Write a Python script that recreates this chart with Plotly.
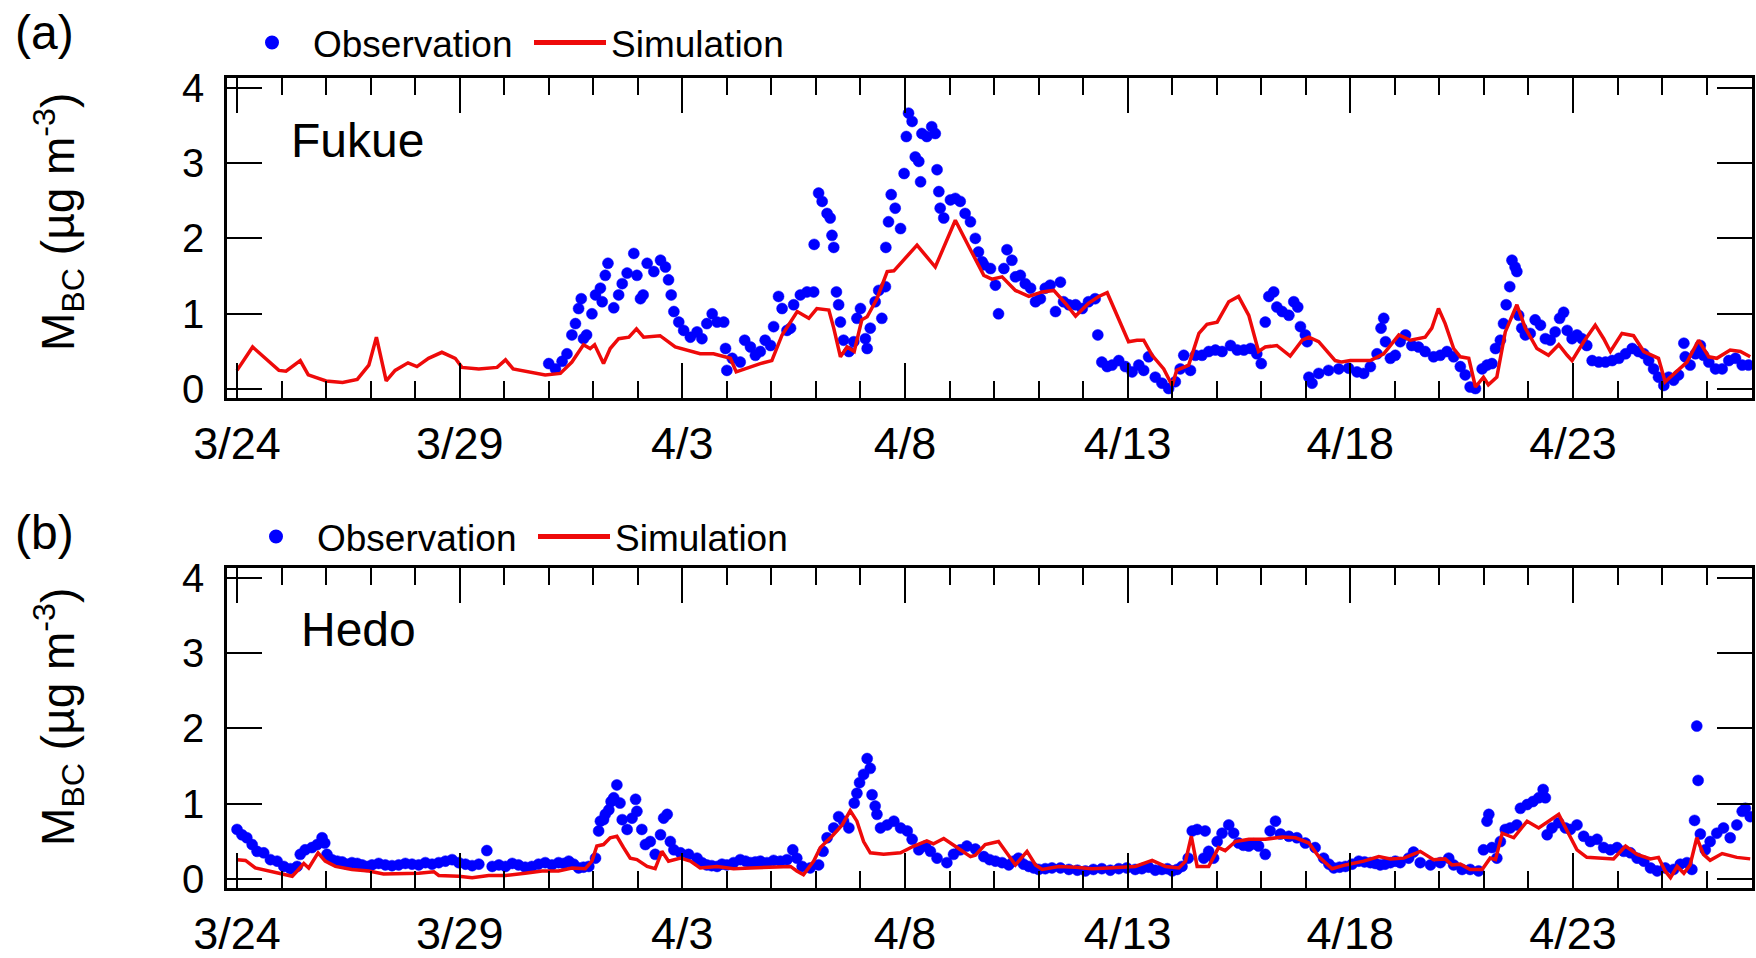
import pandas as pd
import plotly.graph_objects as go

# ---------------- data (days since 3/24 00:00, values in ug m-3) ----------------
sim_a_day = [0, 0.35, 0.94, 1.1, 1.42, 1.6, 2.0, 2.37, 2.7, 2.96, 3.13, 3.24, 3.35, 3.55, 3.84, 4.04, 4.3, 4.6,
             4.9, 5.05, 5.43, 5.84, 6.03, 6.2, 6.62, 6.92, 7.26, 7.52, 7.78, 7.93, 8.03, 8.23, 8.38, 8.57, 8.8,
             8.97, 9.13, 9.5, 9.84, 10.1, 10.4, 10.7, 11.08, 11.21, 11.45, 11.75, 12.01, 12.24, 12.58, 12.84,
             13.02, 13.29, 13.4, 13.55, 13.7, 13.86, 14.03, 14.15, 14.37, 14.6, 14.75, 15.27, 15.68, 16.13,
             16.47, 16.77, 16.95, 17.18, 17.48, 17.78, 18.08, 18.34, 18.6, 18.83, 19.12, 19.35, 19.54, 19.8,
             20.02, 20.21, 20.36, 20.55, 20.81, 21.0, 21.1, 21.37, 21.6, 21.78, 22.01, 22.27, 22.49, 22.72,
             22.94, 23.09, 23.35, 23.65, 23.92, 24.07, 24.29, 24.66, 24.81, 25.0, 25.45, 25.75, 26.09, 26.35,
             26.68, 26.83, 26.98, 27.13, 27.32, 27.47, 27.66, 27.81, 27.99, 28.1, 28.29, 28.48, 28.74, 28.93,
             29.19, 29.45, 29.68, 29.87, 29.98, 30.24, 30.5, 30.69, 30.84, 31.1, 31.36, 31.59, 31.92, 32.07,
             32.34, 32.56, 32.82, 33.05, 33.23, 33.53, 33.76, 33.98]
sim_a_val = [0.25, 0.56, 0.25, 0.24, 0.38, 0.19, 0.11, 0.09, 0.13, 0.32, 0.69, 0.41, 0.11, 0.25, 0.35, 0.30, 0.41, 0.49,
             0.41, 0.29, 0.27, 0.29, 0.39, 0.27, 0.22, 0.19, 0.21, 0.36, 0.59, 0.54, 0.59, 0.34, 0.54, 0.67, 0.69,
             0.80, 0.69, 0.71, 0.56, 0.52, 0.47, 0.47, 0.41, 0.23, 0.28, 0.34, 0.38, 0.72, 1.03, 0.94,
             1.07, 1.05, 0.81, 0.43, 0.56, 0.50, 0.92, 0.96, 1.20, 1.56, 1.57, 1.91, 1.62, 2.24,
             1.85, 1.51, 1.46, 1.49, 1.31, 1.23, 1.29, 1.31, 1.14, 0.97, 1.14, 1.23, 1.28, 0.94,
             0.63, 0.65, 0.65, 0.45, 0.27, 0.05, 0.25, 0.32, 0.74, 0.86, 0.89, 1.16, 1.23, 0.98,
             0.50, 0.56, 0.58, 0.44, 0.65, 0.69, 0.63, 0.38, 0.36, 0.38, 0.38, 0.47, 0.72, 0.65,
             0.69, 0.81, 1.07, 0.87, 0.54, 0.43, 0.41, 0.03, 0.16, 0.06, 0.16, 0.76, 1.12, 0.81,
             0.54, 0.45, 0.59, 0.45, 0.38, 0.63, 0.85, 0.67, 0.50, 0.74, 0.71, 0.50, 0.41, 0.10,
             0.25, 0.36, 0.65, 0.43, 0.41, 0.52, 0.50, 0.43]

obs_a_day = [7.0, 7.15, 7.3, 7.41, 7.52, 7.6, 7.67, 7.73, 7.78, 7.85, 7.97, 8.05, 8.16, 8.2, 8.27, 8.33, 8.46, 8.57,
             8.65, 8.76, 8.91, 8.98, 9.06, 9.12, 9.21, 9.36, 9.51, 9.62, 9.69, 9.75, 9.81, 9.92, 10.03, 10.18,
             10.33, 10.44, 10.55, 10.67, 10.78, 10.93, 10.97, 11.0, 11.12, 11.3, 11.4, 11.53, 11.64, 11.75, 11.86,
             11.98, 12.05, 12.16, 12.24, 12.35, 12.43, 12.5, 12.65, 12.8, 12.95, 12.96, 13.06, 13.14, 13.25,
             13.32, 13.36, 13.4, 13.46, 13.51, 13.55, 13.62, 13.74, 13.85, 13.92, 14.0, 14.11, 14.15, 14.22,
             14.33, 14.41, 14.48, 14.56, 14.57, 14.63, 14.69, 14.78, 14.9, 14.98, 15.03, 15.08, 15.16, 15.23,
             15.31, 15.35, 15.38, 15.49, 15.6, 15.68, 15.72, 15.76, 15.79, 15.87, 16.02, 16.13, 16.24, 16.35,
             16.47, 16.58, 16.65, 16.73, 16.77, 16.92, 17.03, 17.1, 17.22, 17.29, 17.4, 17.48, 17.59, 17.7,
             17.82, 17.93, 18.04, 18.15, 18.26, 18.38, 18.49, 18.56, 18.68, 18.83, 18.98, 19.12, 19.27, 19.33,
             19.42, 19.54, 19.65, 19.8, 19.95, 20.1, 20.25, 20.36, 20.47, 20.62, 20.77, 20.92, 21.07, 21.18,
             21.26, 21.41, 21.52, 21.67, 21.82, 21.97, 22.12, 22.31, 22.46, 22.61, 22.76, 22.9, 23.0, 23.09,
             23.17, 23.28, 23.35, 23.47, 23.62, 23.73, 23.82, 23.88, 23.99, 24.03, 24.07, 24.14, 24.29, 24.51,
             24.74, 24.96, 25.15, 25.3, 25.45, 25.6, 25.69, 25.75, 25.79, 25.9, 26.01, 26.12, 26.24, 26.38,
             26.53, 26.68, 26.87, 27.02, 27.17, 27.32, 27.47, 27.58, 27.69, 27.81, 27.96, 28.07, 28.18, 28.26,
             28.37, 28.44, 28.5, 28.58, 28.63, 28.7, 28.74, 28.78, 28.85, 28.93, 29.04, 29.15, 29.27, 29.38,
             29.49, 29.6, 29.7, 29.79, 29.87, 29.98, 30.09, 30.2, 30.31, 30.43, 30.58, 30.73, 30.88, 31.03,
             31.18, 31.33, 31.47, 31.59, 31.7, 31.81, 31.92, 32.04, 32.15, 32.26, 32.37, 32.49, 32.52, 32.63,
             32.75, 32.86, 32.93, 33.05, 33.2, 33.35, 33.5, 33.65, 33.8, 33.94]
obs_a_val = [0.34, 0.27, 0.37, 0.47, 0.72, 0.87, 1.07, 1.20, 0.67, 0.72, 1.00, 1.25, 1.34, 1.16, 1.51, 1.67, 1.08, 1.25,
             1.40, 1.54, 1.80, 1.51, 1.20, 1.25, 1.67, 1.56, 1.71, 1.62, 1.45, 1.25, 1.03, 0.89, 0.78, 0.69,
             0.76, 0.67, 0.87, 1.00, 0.89, 0.89, 0.54, 0.25, 0.41, 0.36, 0.65, 0.56, 0.45, 0.50, 0.65,
             0.58, 0.83, 1.23, 1.07, 0.78, 0.81, 1.12, 1.25, 1.29, 1.29, 1.92, 2.60, 2.49, 2.33,
             2.27, 2.04, 1.88, 1.29, 1.12, 0.89, 0.65, 0.50, 0.63, 0.94, 1.07, 0.67, 0.54, 0.81,
             1.16, 1.31, 0.94, 1.36, 1.88, 2.22, 2.58, 2.40, 2.13, 2.86, 3.35, 3.66, 3.55, 3.08,
             3.02, 2.75, 3.39, 3.35, 3.48, 3.39, 2.91, 2.62, 2.40, 2.27, 2.51, 2.53, 2.49, 2.33,
             2.22, 2.00, 1.82, 1.69, 1.65, 1.60, 1.38, 1.00, 1.60, 1.85, 1.71, 1.49, 1.51, 1.40,
             1.34, 1.16, 1.20, 1.34, 1.38, 1.03, 1.42, 1.16, 1.12, 1.12, 1.07, 1.16, 1.20, 0.72,
             0.36, 0.30, 0.32, 0.38, 0.30, 0.23, 0.32, 0.25, 0.43, 0.16, 0.08, 0.01, 0.10, 0.27,
             0.45, 0.25, 0.45, 0.45, 0.50, 0.52, 0.50, 0.58, 0.52, 0.52, 0.54, 0.47, 0.34, 0.89,
             1.23, 1.29, 1.09, 1.03, 0.98, 1.16, 1.09, 0.83, 0.72, 0.63, 0.16, 0.08, 0.21, 0.25,
             0.27, 0.28, 0.23, 0.21, 0.30, 0.47, 0.81, 0.94, 0.63, 0.41, 0.45, 0.63, 0.72, 0.58,
             0.56, 0.50, 0.43, 0.45, 0.50, 0.43, 0.30, 0.19, 0.03, 0.01, 0.27, 0.32, 0.34, 0.54,
             0.65, 0.87, 1.12, 1.36, 1.71, 1.62, 1.56, 0.98, 0.81, 0.72, 0.74, 0.92, 0.85, 0.67,
             0.65, 0.76, 0.94, 1.02, 0.78, 0.67, 0.72, 0.67, 0.58, 0.38, 0.36, 0.36, 0.38, 0.41,
             0.47, 0.54, 0.50, 0.47, 0.38, 0.27, 0.16, 0.05, 0.16, 0.12, 0.19, 0.61, 0.43, 0.32,
             0.47, 0.58, 0.45, 0.36, 0.27, 0.27, 0.38, 0.41, 0.32, 0.32]

sim_b_day = [0, 0.19, 0.41, 0.71, 1.01, 1.24, 1.35, 1.5, 1.61, 1.82, 1.98, 2.21, 2.58, 2.96, 3.29, 3.71, 4.08, 4.42,
             4.53, 4.98, 5.28, 5.65, 6.03, 6.47, 6.85, 7.22, 7.52, 7.82, 7.97, 8.08, 8.23, 8.38, 8.53, 8.68, 8.83,
             8.98, 9.21, 9.39, 9.54, 9.69, 9.96, 10.18, 10.4, 10.78, 11.15, 11.53, 11.9, 12.43, 12.57, 12.72,
             12.95, 13.1, 13.36, 13.59, 13.77, 13.92, 14.07, 14.22, 14.52, 14.9, 15.2, 15.49, 15.64, 15.87,
             16.17, 16.47, 16.58, 16.8, 17.1, 17.25, 17.48, 17.74, 17.93, 18.08, 18.45, 18.83, 19.2, 19.57,
             20.17, 20.55, 20.85, 21.15, 21.3, 21.43, 21.56, 21.82, 22.04, 22.19, 22.42, 22.72, 23.09, 23.47,
             23.77, 24.07, 24.29, 24.59, 24.89, 25.3, 25.64, 25.9, 26.2, 26.57, 26.87, 27.13, 27.28, 27.47,
             27.69, 27.96, 28.14, 28.26, 28.41, 28.67, 28.97, 29.23, 29.68, 29.87, 30.09, 30.31, 30.61, 30.91,
             31.18, 31.44, 31.74, 31.92, 32.07, 32.19, 32.34, 32.49, 32.63, 32.78, 32.93, 33.08, 33.35, 33.68,
             33.98]
sim_b_val = [0.26, 0.25, 0.15, 0.11, 0.07, 0.04, 0.11, 0.21, 0.15, 0.35, 0.24, 0.17, 0.13, 0.11, 0.07, 0.08, 0.08, 0.10,
             0.05, 0.04, 0.02, 0.05, 0.05, 0.08, 0.11, 0.11, 0.15, 0.14, 0.24, 0.44, 0.46, 0.55, 0.57, 0.42, 0.28,
             0.26, 0.17, 0.14, 0.37, 0.24, 0.28, 0.24, 0.15, 0.17, 0.14, 0.15, 0.16, 0.17, 0.11, 0.06,
             0.24, 0.42, 0.57, 0.72, 0.91, 0.77, 0.50, 0.35, 0.33, 0.35, 0.44, 0.51, 0.47, 0.54,
             0.42, 0.30, 0.32, 0.46, 0.50, 0.37, 0.19, 0.37, 0.19, 0.13, 0.17, 0.16, 0.14, 0.15,
             0.17, 0.25, 0.17, 0.15, 0.24, 0.57, 0.17, 0.17, 0.42, 0.38, 0.50, 0.53, 0.53, 0.56,
             0.55, 0.48, 0.30, 0.14, 0.19, 0.24, 0.30, 0.27, 0.28, 0.37, 0.26, 0.27, 0.19, 0.20,
             0.13, 0.13, 0.28, 0.26, 0.61, 0.55, 0.77, 0.68, 0.86, 0.64, 0.39, 0.29, 0.28, 0.27,
             0.44, 0.33, 0.27, 0.29, 0.11, 0.02, 0.17, 0.08, 0.19, 0.55, 0.33, 0.25, 0.34, 0.29,
             0.27]

# Hedo observations as (day, value) pairs
obs_b_pairs = [
    (0, 0.66), (0.11, 0.59), (0.22, 0.55), (0.34, 0.46), (0.45, 0.37), (0.6, 0.35), (0.75, 0.26), (0.9, 0.24),
    (1.05, 0.17), (1.2, 0.14), (1.35, 0.17), (1.42, 0.33), (1.53, 0.39), (1.68, 0.42), (1.8, 0.46), (1.91, 0.55),
    (1.97, 0.48), (2.02, 0.33), (2.13, 0.26), (2.25, 0.24), (2.36, 0.23), (2.47, 0.20), (2.58, 0.22), (2.7, 0.21),
    (2.81, 0.19), (2.92, 0.17), (3.03, 0.19), (3.18, 0.21), (3.33, 0.19), (3.48, 0.18), (3.63, 0.19), (3.78, 0.21),
    (3.93, 0.20), (4.08, 0.19), (4.23, 0.22), (4.38, 0.20), (4.53, 0.22), (4.68, 0.24), (4.83, 0.26), (4.98, 0.22),
    (5.13, 0.20), (5.28, 0.18), (5.43, 0.20), (5.61, 0.38), (5.73, 0.17), (5.88, 0.19), (6.03, 0.17), (6.18, 0.21),
    (6.32, 0.19), (6.47, 0.16), (6.62, 0.17), (6.77, 0.20), (6.92, 0.22), (7.07, 0.19), (7.22, 0.22), (7.34, 0.21),
    (7.45, 0.24), (7.56, 0.20), (7.67, 0.15), (7.78, 0.16), (7.9, 0.17), (8.05, 0.28), (8.12, 0.64), (8.16, 0.77),
    (8.23, 0.79), (8.27, 0.86), (8.35, 0.92), (8.4, 1.03), (8.46, 1.08), (8.53, 1.25), (8.6, 1.01), (8.65, 0.79),
    (8.76, 0.66), (8.87, 0.81), (8.95, 1.06), (8.98, 0.90), (9.09, 0.66), (9.17, 0.46), (9.28, 0.50), (9.39, 0.33),
    (9.51, 0.59), (9.58, 0.81), (9.66, 0.86), (9.73, 0.50), (9.81, 0.39), (9.96, 0.35), (10.14, 0.33), (10.33, 0.28),
    (10.44, 0.22), (10.55, 0.19), (10.66, 0.18), (10.78, 0.17), (10.89, 0.20), (11.0, 0.19), (11.15, 0.22),
    (11.3, 0.26), (11.42, 0.24), (11.53, 0.22), (11.64, 0.23), (11.75, 0.24), (11.9, 0.22), (12.05, 0.25),
    (12.2, 0.24), (12.35, 0.26), (12.48, 0.39), (12.57, 0.28), (12.69, 0.17), (12.87, 0.15), (13.06, 0.19),
    (13.16, 0.37), (13.25, 0.55), (13.4, 0.68), (13.51, 0.83), (13.62, 0.77), (13.74, 0.68), (13.86, 1.01),
    (13.92, 1.14), (13.98, 1.28), (14.07, 1.39), (14.15, 1.60), (14.22, 1.47), (14.26, 1.12), (14.33, 0.97),
    (14.37, 0.86), (14.45, 0.68), (14.6, 0.72), (14.75, 0.77), (14.9, 0.68), (15.05, 0.64), (15.16, 0.53),
    (15.31, 0.39), (15.46, 0.44), (15.57, 0.37), (15.72, 0.28), (15.94, 0.22), (16.09, 0.33), (16.24, 0.39),
    (16.39, 0.44), (16.58, 0.40), (16.77, 0.30), (16.9, 0.26), (17.03, 0.24), (17.18, 0.22), (17.33, 0.19),
    (17.44, 0.24), (17.55, 0.28), (17.66, 0.20), (17.78, 0.17), (17.89, 0.15), (18.0, 0.13), (18.15, 0.14),
    (18.3, 0.15), (18.49, 0.15), (18.68, 0.13), (18.87, 0.12), (19.05, 0.11), (19.23, 0.13), (19.42, 0.14),
    (19.61, 0.12), (19.8, 0.14), (19.98, 0.15), (20.17, 0.13), (20.32, 0.14), (20.47, 0.16), (20.62, 0.12),
    (20.77, 0.13), (20.89, 0.14), (21.0, 0.11), (21.11, 0.13), (21.22, 0.17), (21.36, 0.28), (21.45, 0.64),
    (21.56, 0.66), (21.71, 0.28), (21.74, 0.64), (21.82, 0.37), (21.93, 0.28), (22.01, 0.50), (22.12, 0.61),
    (22.27, 0.72), (22.38, 0.61), (22.49, 0.48), (22.6, 0.45), (22.72, 0.44), (22.83, 0.47), (22.94, 0.44),
    (23.09, 0.33), (23.2, 0.64), (23.32, 0.77), (23.43, 0.60), (23.62, 0.57), (23.8, 0.55), (23.99, 0.48),
    (24.21, 0.42), (24.4, 0.28), (24.52, 0.20), (24.63, 0.15), (24.76, 0.16), (24.89, 0.17), (25.04, 0.20),
    (25.19, 0.24), (25.32, 0.23), (25.45, 0.22), (25.56, 0.21), (25.67, 0.19), (25.78, 0.20), (25.9, 0.22),
    (26.01, 0.24), (26.12, 0.22), (26.31, 0.28), (26.42, 0.36), (26.57, 0.22), (26.8, 0.19), (27.02, 0.22),
    (27.21, 0.28), (27.32, 0.19), (27.51, 0.13), (27.69, 0.13), (27.88, 0.11), (27.99, 0.39), (28.07, 0.77),
    (28.11, 0.86), (28.18, 0.42), (28.29, 0.28), (28.37, 0.50), (28.48, 0.66), (28.59, 0.68), (28.74, 0.72),
    (28.82, 0.94), (28.97, 0.99), (29.1, 1.03), (29.23, 1.08), (29.33, 1.19), (29.38, 1.08), (29.42, 0.59),
    (29.53, 0.68), (29.68, 0.75), (29.83, 0.68), (29.94, 0.66), (30.09, 0.72), (30.24, 0.57), (30.39, 0.50),
    (30.54, 0.53), (30.69, 0.42), (30.84, 0.39), (30.99, 0.42), (31.14, 0.37), (31.29, 0.35), (31.44, 0.28),
    (31.59, 0.24), (31.74, 0.15), (31.89, 0.11), (32.07, 0.15), (32.26, 0.13), (32.41, 0.20), (32.56, 0.22),
    (32.67, 0.13), (32.73, 0.78), (32.78, 2.03), (32.81, 1.31), (32.86, 0.60), (32.97, 0.39), (33.08, 0.50),
    (33.23, 0.61), (33.38, 0.68), (33.53, 0.55), (33.68, 0.72), (33.8, 0.90), (33.87, 0.94), (33.98, 0.83),
]
obs_b_day = [p[0] for p in obs_b_pairs]
obs_b_val = [p[1] for p in obs_b_pairs]

y_ticks = [0, 1, 2, 3, 4]
panel_labels = ["(a)", "(b)"]
site_names = ["Fukue", "Hedo"]

# ---------------- figure ----------------
START = pd.Timestamp("2009-03-24")


def to_time(days):
    return START + pd.to_timedelta(pd.Series(days), unit="D")


W, H = 1756, 958
BLUE = "#0000FF"
RED = "#EE0A0A"
FONT = "Arial, Liberation Sans, sans-serif"

fig = go.Figure()
panels = [
    (obs_a_day, obs_a_val, sim_a_day, sim_a_val, "x", "y", "legend"),
    (obs_b_day, obs_b_val, sim_b_day, sim_b_val, "x2", "y2", "legend2"),
]
for od, ov, sd, sv, xa, ya, lg in panels:
    fig.add_trace(go.Scatter(x=to_time(od), y=ov, mode="markers", name="Observation",
                             marker=dict(color=BLUE, size=11, line=dict(width=0.5, color=BLUE)),
                             xaxis=xa, yaxis=ya, legend=lg))
    fig.add_trace(go.Scatter(x=to_time(sd), y=sv, mode="lines", name="Simulation",
                             line=dict(color=RED, width=3.5),
                             xaxis=xa, yaxis=ya, legend=lg))


def px_x(p):
    return p / W


def px_y(p):
    return 1 - p / H


x_dom = [px_x(227), px_x(1752)]
x_range = [START - pd.Timedelta(days=0.225), START + pd.Timedelta(days=34.02)]

xcommon = dict(
    type="date", range=x_range, domain=x_dom, automargin=False,
    tick0=START, dtick=5 * 86400000, tickformat="%-m/%-d",
    ticks="inside", ticklen=35, tickwidth=2, tickcolor="black",
    showline=True, linewidth=2.5, linecolor="black", mirror="ticks",
    showgrid=False, zeroline=False,
    tickfont=dict(size=45, color="black", family=FONT),
    ticklabelstandoff=4,
    minor=dict(tick0=START, dtick=86400000, ticks="inside", ticklen=17, tickwidth=2,
               tickcolor="black", showgrid=False),
)
ycommon = dict(
    range=[-0.116, 4.126], tickvals=y_ticks, ticktext=[str(v) for v in y_ticks], automargin=False,
    ticks="inside", ticklen=35, tickwidth=2, tickcolor="black",
    showline=True, linewidth=2.5, linecolor="black", mirror="ticks",
    showgrid=False, zeroline=False,
    tickfont=dict(size=40, color="black", family=FONT),
    ticklabelstandoff=12,
)

legend_common = dict(orientation="h", xanchor="left", yanchor="top",
                     font=dict(size=37, family=FONT, color="black"), itemsizing="constant", itemwidth=72,
                     entrywidth=211, entrywidthmode="pixels",
                     bgcolor="rgba(0,0,0,0)", borderwidth=0)

fig.update_layout(
    width=W, height=H,
    margin=dict(l=0, r=0, t=0, b=0, autoexpand=False),
    paper_bgcolor="white", plot_bgcolor="white",
    font=dict(family=FONT, color="black"),
    showlegend=True,
    xaxis=dict(xcommon, anchor="y"),
    yaxis=dict(ycommon, anchor="x", domain=[px_y(398), px_y(78)]),
    xaxis2=dict(xcommon, anchor="y2"),
    yaxis2=dict(ycommon, anchor="x2", domain=[px_y(888), px_y(568)]),
    legend=dict(legend_common, x=px_x(231), y=px_y(12)),
    legend2=dict(legend_common, x=px_x(235), y=px_y(506)),
)

title_txt = "M<sub>BC</sub> (µg m<sup>-3</sup>)"
for lab, site, ly, sy, ty, sx in [(panel_labels[0], site_names[0], 33, 141, 222, 289),
                                  (panel_labels[1], site_names[1], 532, 629, 717, 299)]:
    fig.add_annotation(text=lab, xref="paper", yref="paper", x=px_x(13), y=px_y(ly),
                       xanchor="left", yanchor="middle", showarrow=False,
                       font=dict(size=48, family=FONT, color="black"))
    fig.add_annotation(text=site, xref="paper", yref="paper", x=px_x(sx), y=px_y(sy),
                       xanchor="left", yanchor="middle", showarrow=False,
                       font=dict(size=48, family=FONT, color="black"))
    fig.add_annotation(text=title_txt, xref="paper", yref="paper", x=px_x(58), y=px_y(ty),
                       xanchor="center", yanchor="middle", showarrow=False, textangle=-90,
                       font=dict(size=46, family=FONT, color="black"))

# remove the browser's default 8px body margin so the figure sits at the page origin
fig.write_html("out.html", config={"displayModeBar": False},
               post_script="document.body.style.margin='0px';")
